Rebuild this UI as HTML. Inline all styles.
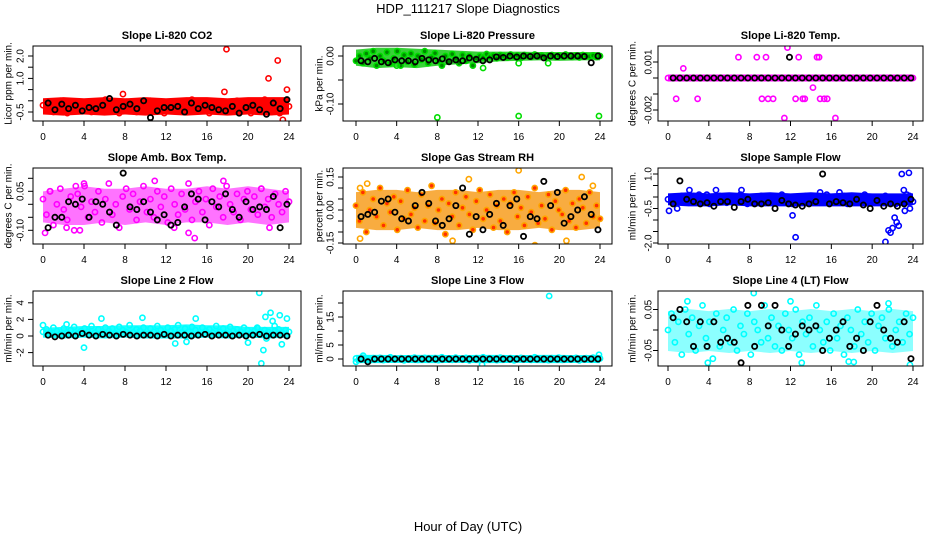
<!DOCTYPE html>
<html><head><meta charset="utf-8"><style>
html,body{margin:0;padding:0;background:#fff;}
svg{display:block;font-family:"Liberation Sans",Arial,sans-serif;}
</style></head><body>
<svg id="chart" width="936" height="540" viewBox="0 0 936 540" xmlns="http://www.w3.org/2000/svg">
<text x="468" y="13" text-anchor="middle" font-size="13">HDP_111217  Slope Diagnostics</text>
<text x="468" y="531" text-anchor="middle" font-size="13">Hour of Day (UTC)</text>
<g id="panels"></g>
</svg>
<script>
const xTicks=[0,4,8,12,16,20,24];
const titles=["Slope Li-820 CO2","Slope Li-820 Pressure","Slope Li-820 Temp.","Slope Amb. Box Temp.","Slope Gas Stream RH","Slope Sample Flow","Slope Line 2 Flow","Slope Line 3 Flow","Slope Line 4 (LT) Flow"];
const yTitles=["Licor ppm per min.","kPa per min.","degrees C per min.","degrees C per min.","percent per min.","ml/min per min.","ml/min per min.","ml/min per min.","ml/min per min."];
const colors=["#ff0000","#00dd00","#ff00ff","#ff00ff","#ffa500","#0000ff","#00ffff","#00ffff","#00ffff"];
const bandColors=["#ff0000","#22cc22","#ff00ff","#ff00ff","#f59000","#0000ff","#00ffff","#00ffff","#00ffff"];
const bandOpacity=[1,0.9,1,0.55,0.75,1,0.9,1,0.45];
const yTickVals=[[-0.5,0,0.5,1,1.5,2],[-0.1,-0.05,0],[-0.002,-0.001,0,0.001],[-0.1,-0.05,0,0.05,0.1],[-0.15,-0.1,-0.05,0,0.05,0.1,0.15],[-2,-1.5,-1,-0.5,0,0.5,1],[-2,0,2,4],[0,5,10,15,20],[-0.05,0,0.05]];
const yTickLabels=[["-0.5","","","1.0","","2.0"],["-0.10","","0.00"],["-0.002","","","0.001"],["-0.10","","","0.05",""],["-0.15","","","0.00","","","0.15"],["-2.0","","","-0.5","","","1.0"],["-2","0","2","4"],["0","5","","15",""],["-0.05","","0.05"]];
// dense-band envelope, every 2 hours (0..24)
const bandLo=[
[-0.5,-0.55,-0.5,-0.55,-0.5,-0.55,-0.5,-0.55,-0.5,-0.55,-0.5,-0.55,-0.5],
[-0.015,-0.02,-0.018,-0.02,-0.015,-0.012,-0.01,-0.006,-0.005,-0.004,-0.005,-0.004,-0.004],
[-0.00006,-0.00006,-0.00006,-0.00006,-0.00006,-0.00006,-0.00006,-0.00006,-0.00006,-0.00006,-0.00006,-0.00006,-0.00006],
[-0.06,-0.07,-0.07,-0.06,-0.07,-0.06,-0.07,-0.06,-0.06,-0.07,-0.06,-0.07,-0.06],
[-0.07,-0.08,-0.08,-0.07,-0.08,-0.08,-0.07,-0.08,-0.08,-0.07,-0.08,-0.08,-0.07],
[-0.25,-0.3,-0.3,-0.25,-0.3,-0.3,-0.3,-0.3,-0.3,-0.3,-0.3,-0.3,-0.25],
[0.1,0.0,0.1,0.0,0.1,0.0,0.0,0.0,0.1,0.0,0.1,0.0,0.1],
[-0.6,-0.6,-0.5,-0.6,-0.6,-0.5,-0.6,-0.6,-0.5,-0.6,-0.6,-0.5,-0.6],
[-0.045,-0.05,-0.045,-0.05,-0.045,-0.05,-0.045,-0.05,-0.045,-0.05,-0.045,-0.05,-0.045]];
const bandHi=[
[0.0,0.05,0.0,0.05,0.0,0.05,0.0,0.05,0.05,0.0,0.05,0.05,0.05],
[0.008,0.012,0.012,0.01,0.008,0.006,0.004,0.004,0.004,0.003,0.003,0.003,0.003],
[0.00006,0.00006,0.00006,0.00006,0.00006,0.00006,0.00006,0.00006,0.00006,0.00006,0.00006,0.00006,0.00006],
[0.04,0.05,0.06,0.05,0.05,0.06,0.05,0.05,0.06,0.05,0.06,0.05,0.04],
[0.07,0.08,0.08,0.07,0.08,0.08,0.07,0.08,0.08,0.07,0.08,0.08,0.07],
[0.05,0.1,0.05,0.1,0.05,0.1,0.05,0.1,0.05,0.1,0.05,0.05,0.05],
[0.7,0.8,0.9,0.9,1.0,1.0,1.0,1.1,1.0,1.0,0.8,0.8,0.8],
[0.6,0.6,0.5,0.6,0.6,0.5,0.6,0.6,0.5,0.6,0.6,0.5,0.6],
[0.04,0.045,0.04,0.045,0.04,0.045,0.04,0.045,0.04,0.045,0.04,0.045,0.04]];
const mainVals=[
[-0.2,-0.4,-0.1,-0.5,-0.25,0.0,-0.35,-0.55,-0.15,-0.3,-0.45,-0.05,-0.4,-0.2,-0.5,-0.1,-0.3,-0.45,0.05,-0.25,-0.4,-0.15,-0.55,-0.3,-0.05,-0.35,-0.2,-0.5,-0.1,-0.4,-0.25,0.0,-0.45,-0.15,-0.35,-0.55,-0.2,-0.05,-0.4,-0.3,-0.1,-0.5,-0.25,0.05,-0.35,-0.45,-0.15,-0.3,-0.55,-0.05,-0.2,-0.4,-0.1,-0.35,-0.5,-0.25,0.0,-0.45,-0.15,-0.3,-0.55,-0.1,-0.4,-0.2,0.05,-0.35,-0.5,-0.15,-0.3,-0.05,-0.45,-0.25],
[-0.01,0.0,-0.015,0.005,-0.005,0.01,-0.02,0.0,-0.01,0.008,-0.015,-0.005,0.01,-0.02,0.002,-0.012,0.005,-0.018,0.0,-0.008,0.01,-0.015,-0.003,0.006,-0.01,-0.02,0.0,-0.012,0.004,-0.006,-0.015,0.002,-0.01,0.0,-0.02,-0.005,0.0,-0.003,0.004,-0.002,0.001,-0.005,0.002,0.0,-0.003,0.003,-0.001,0.001,-0.004,0.002,0.0,-0.002,0.003,-0.001,0.001,-0.003,0.0,0.002,-0.002,0.001,-0.001,0.003,0.0,-0.002,0.001,-0.003,0.002,0.0,-0.001,0.001,-0.002,0.0],
[0,0,0,0,0,0,0,0,0,0,0,0,0,0,0,0,0,0,0,0,0,0,0,0,0,0,0,0,0,0,0,0,0,0,0,0,0,0,0,0,0,0,0,0,0,0,0,0,0,0,0,0,0,0,0,0,0,0,0,0,0,0,0,0,0,0,0,0,0,0,0,0],
[0.02,-0.04,0.05,-0.08,0.0,0.06,-0.02,-0.06,0.03,-0.1,0.04,-0.01,0.07,-0.05,0.01,-0.03,0.05,-0.07,0.02,0.08,-0.04,0.0,-0.09,0.03,0.06,-0.02,0.04,-0.06,0.01,0.07,-0.03,0.02,-0.05,0.05,-0.01,0.03,-0.07,0.06,0.0,-0.04,0.04,-0.02,0.08,-0.06,0.01,0.05,-0.03,0.02,-0.08,0.06,-0.01,0.03,-0.05,0.07,0.0,-0.03,0.04,-0.06,0.02,0.05,-0.02,0.03,-0.04,0.06,-0.01,0.02,-0.05,0.04,0.0,-0.03,0.05,0.01],
[0.02,-0.05,0.08,-0.1,0.0,0.05,-0.03,0.1,-0.07,0.03,-0.01,0.06,-0.09,0.04,-0.04,0.09,-0.02,0.01,-0.08,0.07,-0.05,0.02,0.11,-0.06,0.0,0.05,-0.11,0.03,-0.03,0.08,-0.07,0.01,0.06,-0.02,-0.09,0.04,0.09,-0.04,0.0,0.07,-0.08,0.02,-0.05,0.05,-0.1,0.03,0.08,-0.03,0.01,-0.07,0.06,-0.01,0.1,-0.06,0.02,-0.04,0.07,-0.09,0.04,0.0,-0.02,0.09,-0.05,0.03,-0.08,0.05,0.01,-0.06,0.08,-0.03,0.02,-0.04],
[-0.1,0.0,-0.2,-0.05,0.05,-0.15,-0.25,0.0,-0.1,0.1,-0.2,-0.05,-0.3,0.0,-0.15,0.05,-0.1,-0.25,0.0,-0.05,-0.2,0.1,-0.1,-0.3,-0.05,0.0,-0.15,0.05,-0.2,-0.1,0.0,-0.25,-0.05,0.1,-0.15,-0.1,-0.3,0.0,-0.05,-0.2,0.05,-0.1,-0.15,0.0,-0.25,-0.05,0.1,-0.2,-0.1,0.0,-0.15,0.05,-0.3,-0.05,-0.1,0.0,-0.2,0.1,-0.15,-0.05,-0.25,0.0,-0.1,0.05,-0.2,-0.05,-0.3,0.0,-0.15,-0.1,0.05,-0.2],
[0.5,0.8,0.3,1.0,0.6,0.2,0.9,0.4,0.7,1.1,0.3,0.6,0.9,0.5,1.2,0.4,0.8,0.2,1.0,0.6,0.9,0.3,1.1,0.7,0.5,1.3,0.4,0.8,0.6,1.0,0.2,0.9,0.5,1.2,0.7,0.3,1.0,0.6,0.8,1.3,0.4,0.9,0.5,1.1,0.7,0.2,1.0,0.6,0.8,0.4,1.2,0.5,0.9,0.3,1.1,0.6,0.8,0.5,1.0,0.7,0.3,0.6,0.9,0.4,0.7,0.5,0.2,0.6,0.8,0.4,0.7,0.5],
[0.2,-0.3,0.5,0.0,-0.5,0.3,-0.1,0.4,-0.4,0.1,0.6,-0.2,0.0,0.3,-0.5,0.2,-0.1,0.5,-0.3,0.1,0.4,-0.2,0.0,0.3,-0.4,0.6,-0.1,0.2,-0.3,0.5,0.0,-0.2,0.4,-0.5,0.1,0.3,-0.1,0.6,-0.3,0.2,0.0,-0.4,0.5,-0.2,0.1,0.3,-0.5,0.0,0.4,-0.1,0.2,-0.3,0.6,-0.2,0.1,0.0,-0.4,0.3,-0.1,0.5,-0.3,0.2,0.0,-0.2,0.4,-0.5,0.1,0.3,-0.1,0.5,-0.2,0.2],
[0.0,0.04,-0.03,0.02,-0.06,0.05,-0.01,0.03,-0.05,0.01,0.06,-0.02,0.02,-0.07,0.04,-0.04,0.0,0.03,-0.03,0.05,-0.05,0.01,-0.01,0.04,-0.06,0.02,0.0,-0.03,0.06,-0.02,0.03,-0.04,0.01,-0.05,0.04,0.0,-0.02,0.05,-0.06,0.02,-0.01,0.03,-0.04,0.06,0.0,-0.03,0.02,-0.05,0.04,-0.02,0.01,-0.06,0.03,0.0,-0.04,0.05,-0.01,0.02,-0.03,0.04,-0.05,0.01,0.03,-0.02,0.05,-0.04,0.0,0.02,-0.03,0.04,-0.01,0.03]];
const outT=[[17.9,22.9,22.0,17.7,23.4,7.8,23.1,23.8],[8.0,16.0,23.9,12.5,4.0,16.0,18.9],[0.8,1.5,2.9,6.9,8.7,9.6,9.2,9.8,10.3,11.4,11.7,12.5,12.8,13.2,13.4,14.2,14.6,14.8,14.9,15.3,15.6,16.4],[0.2,0.7,3.2,3.6,4.0,10.9,14.8,14.2,12.8,22.1,17.6,2.3,21.3],[0.4,0.4,1.1,7.9,9.5,11.1,16.0,17.6,20.7,22.2,23.3],[0.1,0.9,2.1,4.7,7.2,12.2,12.5,21.3,21.6,21.8,22.0,22.2,22.4,22.6,22.9,23.1,23.4,23.6,23.2,23.7,14.9,3.8,16.8],[0.0,2.3,4.0,5.7,9.7,12.9,14.0,14.9,20.0,20.9,21.1,21.3,21.5,21.8,22.2,22.4,22.6,23.1,23.3,23.8,21.7],[19.0,12.4,0.0,23.9,0.7],[1.9,3.9,8.4,12.0,13.1,17.7,18.2,23.7,21.6]];
const outV=[[2.3,1.8,1.0,0.4,-0.85,0.3,-0.55,0.5],[-0.128,-0.125,-0.125,-0.025,-0.02,-0.015,-0.015],[-0.0013,0.0006,-0.0013,0.0013,0.0013,0.0013,-0.0013,-0.0013,-0.0013,-0.0025,0.0019,-0.0013,0.0013,-0.0013,-0.0013,-0.0006,0.0013,0.0013,-0.0013,-0.0013,-0.0013,-0.0025],[-0.11,0.05,0.07,-0.1,0.08,0.09,-0.13,-0.11,-0.09,-0.09,0.09,-0.09,0.06],[0.1,-0.13,0.12,-0.17,-0.14,0.14,0.18,-0.16,-0.14,0.15,0.11],[-0.6,-0.5,0.3,0.3,0.3,-0.8,-1.75,-1.95,-1.45,-1.55,-1.35,-0.9,-1.1,-1.25,1.0,0.3,0.1,1.05,-0.6,-0.5,0.2,0.1,0.2],[1.3,1.4,-1.4,2.1,2.2,-0.9,-0.7,2.1,-0.8,1.0,5.2,-3.3,-1.7,-0.3,2.8,1.8,1.2,2.5,-1.0,2.1,2.3],[22.5,-2.0,-1.0,1.5,1.2],[0.07,-0.08,0.09,0.07,-0.08,-0.077,-0.078,-0.085,0.065]];
const blackVals=[
[-0.1,-0.4,-0.15,-0.35,-0.2,-0.45,-0.3,-0.35,-0.2,0.1,-0.4,-0.25,-0.15,-0.35,0.0,-0.75,-0.45,-0.3,-0.3,-0.25,-0.5,-0.1,-0.35,-0.2,-0.3,-0.4,-0.45,-0.25,-0.55,-0.3,-0.2,-0.4,-0.6,-0.1,-0.35,0.05],
[-0.01,-0.012,-0.005,-0.012,-0.014,-0.008,-0.01,-0.01,-0.012,-0.005,-0.008,-0.01,-0.006,-0.012,-0.008,-0.01,-0.004,-0.007,-0.01,-0.008,-0.002,-0.003,0.0,-0.002,0.0,-0.001,0.0,-0.004,0.0,-0.001,0.0,0.0,0.0,-0.001,-0.014,0.0],
[0,0,0,0,0,0,0,0,0,0,0,0,0,0,0,0,0,0,0,0,0,0,0,0,0,0,0,0,0,0,0,0,0,0,0,0],
[-0.09,-0.05,-0.05,0.01,0.0,0.02,-0.05,0.01,0.0,-0.03,-0.08,0.12,-0.01,-0.02,0.01,-0.03,-0.06,-0.04,-0.08,-0.07,-0.01,0.04,0.02,-0.06,0.01,-0.01,0.04,-0.02,-0.05,0.01,-0.02,-0.01,-0.02,0.03,-0.09,0.0],
[-0.03,-0.02,-0.01,0.04,0.05,-0.01,-0.04,-0.05,0.02,0.08,0.03,-0.05,-0.07,-0.04,0.02,0.1,-0.11,-0.03,-0.09,-0.02,0.03,-0.07,0.02,0.05,-0.12,-0.03,-0.04,0.13,0.02,0.08,-0.06,-0.03,0.0,0.06,-0.02,-0.09],
[-0.3,0.7,-0.1,-0.2,-0.3,-0.25,-0.4,-0.2,-0.2,-0.45,-0.2,-0.1,-0.3,-0.3,-0.25,-0.5,-0.15,-0.3,-0.35,-0.4,-0.3,-0.2,1.0,-0.3,-0.2,-0.25,-0.3,-0.1,-0.35,-0.5,-0.15,-0.4,-0.3,-0.4,-0.3,-0.1],
[0.1,-0.1,0.0,0.1,0.0,0.3,0.1,0.0,0.2,0.1,0.0,0.2,0.1,0.0,0.1,0.1,0.0,0.2,0.0,0.1,0.1,0.0,0.1,0.2,0.0,0.1,0.1,0.0,0.1,0.0,0.1,0.2,0.0,0.1,0.1,0.0],
[0.0,-1.0,0.0,0.0,0.0,0.0,0.0,0.0,0.0,0.0,0.0,0.0,0.0,0.0,0.0,0.0,0.0,0.0,0.0,0.0,0.0,0.0,0.0,0.0,0.0,0.0,0.0,0.0,0.0,0.0,0.0,0.0,0.0,0.0,0.0,0.0],
[0.03,0.05,0.02,-0.04,0.02,-0.04,0.02,-0.03,-0.02,-0.03,-0.08,0.06,-0.04,0.06,0.01,0.06,0.0,-0.04,-0.01,0.01,0.0,0.01,-0.05,-0.02,0.0,0.02,-0.04,-0.02,-0.05,0.02,0.06,0.0,-0.02,-0.03,0.02,-0.07]];

const NS="http://www.w3.org/2000/svg";
const cols=[{bx0:33,bx1:301,p0:43,p24:289,lab:20,tit:8},{bx0:343,bx1:612,p0:356,p24:600,lab:330,tit:319},{bx0:658,bx1:923,p0:668,p24:913,lab:648,tit:632}];
const rows=[{by0:46,by1:121},{by0:168,by1:244},{by0:291,by1:366}];
const yScales=[[-0.5,112,22.4],[0,56,480],[0,78,16000],[0,204.3,260],[0,210,220],[0,197,23],[0,336,8.3],[0,359,2.8],[0,330,410]];
const root=document.getElementById('panels');
function mk(tag,attrs,parent){const e=document.createElementNS(NS,tag);for(const k in attrs)e.setAttribute(k,attrs[k]);parent.appendChild(e);return e;}
for(let p=0;p<9;p++){
  const c=cols[p%3],r=rows[Math.floor(p/3)],ys=yScales[p];
  const xs=t=>c.p0+(c.p24-c.p0)*t/24;
  const yv=v=>ys[1]-(v-ys[0])*ys[2];
  const g=mk('g',{},root);
  
  
  const cp='clip'+p;
  const cl=mk('clipPath',{id:cp},g);
  mk('rect',{x:c.bx0,y:r.by0,width:c.bx1-c.bx0,height:r.by1-r.by0},cl);
  const tt=mk('text',{x:(c.bx0+c.bx1)/2,y:r.by0-7,'text-anchor':'middle','font-size':'11','font-weight':'bold'},g);
  tt.textContent=titles[p];
  
  
  const yt=mk('text',{x:c.tit,y:(r.by0+r.by1)/2,'text-anchor':'middle','font-size':'10',transform:`rotate(-90 ${c.tit} ${(r.by0+r.by1)/2})`,dy:'0.35em'},g);
  yt.textContent=yTitles[p];
  
  
  const pts=mk('g',{'clip-path':`url(#${cp})`,fill:'none','stroke-width':'1.6'},g);
  // dense band
  const lo=bandLo[p],hi=bandHi[p],n=lo.length;
  let d='';
  hi.forEach((v,i)=>{d+=(i?'L':'M')+xs(i*24/(n-1))+','+(yv(v)-2.5);});
  for(let i=n-1;i>=0;i--)d+='L'+xs(i*24/(n-1))+','+(yv(lo[i])+2.5);
  const band=mk('path',{d:d+'Z',fill:bandColors[p],'fill-opacity':bandOpacity[p],stroke:'none'},pts);
  
  
  const mv=mainVals[p];
  mv.forEach((v,i)=>{const t=i*24/(mv.length-1);
    const e=mk('circle',{cx:xs(t),cy:yv(v),r:2.6,stroke:colors[p]},pts);
    if(p===4)e.setAttribute('fill','#ff3000');
    if(p===1)e.setAttribute('fill','#008800');
    
    });
  outT[p].forEach((t,i)=>{
    const e=mk('circle',{cx:xs(t),cy:yv(outV[p][i]),r:2.6,stroke:colors[p]},pts);
    
    });
  const bv=blackVals[p];
  bv.forEach((v,i)=>{const t=0.5+i*23.3/(bv.length-1);
    const e=mk('circle',{cx:xs(t),cy:yv(v),r:2.6,stroke:'#000','stroke-width':'1.8'},pts);
    
    });
  if(p===2){const e=mk('circle',{cx:xs(11.9),cy:yv(0.0013),r:2.6,stroke:'#000','stroke-width':'1.8'},pts);
    
    }
  const bx=mk('rect',{x:c.bx0,y:r.by0,width:c.bx1-c.bx0,height:r.by1-r.by0,fill:'none',stroke:'#000','stroke-width':'1'},g);
  
  
  const xa=mk('g',{stroke:'#000','stroke-width':'1'},g);
  
  
  mk('line',{x1:xs(0),x2:xs(24),y1:r.by1,y2:r.by1},xa);
  xTicks.forEach(t=>{mk('line',{x1:xs(t),x2:xs(t),y1:r.by1,y2:r.by1+5},xa);
    const l=mk('text',{x:xs(t),y:r.by1+19,'text-anchor':'middle','font-size':'10',stroke:'none'},xa);l.textContent=t;
    
    });
  const ya=mk('g',{stroke:'#000','stroke-width':'1'},g);
  
  
  const tv=yTickVals[p];
  mk('line',{x1:c.bx0,x2:c.bx0,y1:yv(tv[0]),y2:yv(tv[tv.length-1])},ya);
  tv.forEach((v,i)=>{const y=yv(v);mk('line',{x1:c.bx0-5,x2:c.bx0,y1:y,y2:y},ya);
    const s=yTickLabels[p][i];
    if(s){const l=mk('text',{x:c.lab,y:y,'text-anchor':'middle','font-size':'10',stroke:'none',transform:`rotate(-90 ${c.lab} ${y})`,dy:'0.35em'},ya);l.textContent=s;
      
      }});
}
</script>
</body></html>
